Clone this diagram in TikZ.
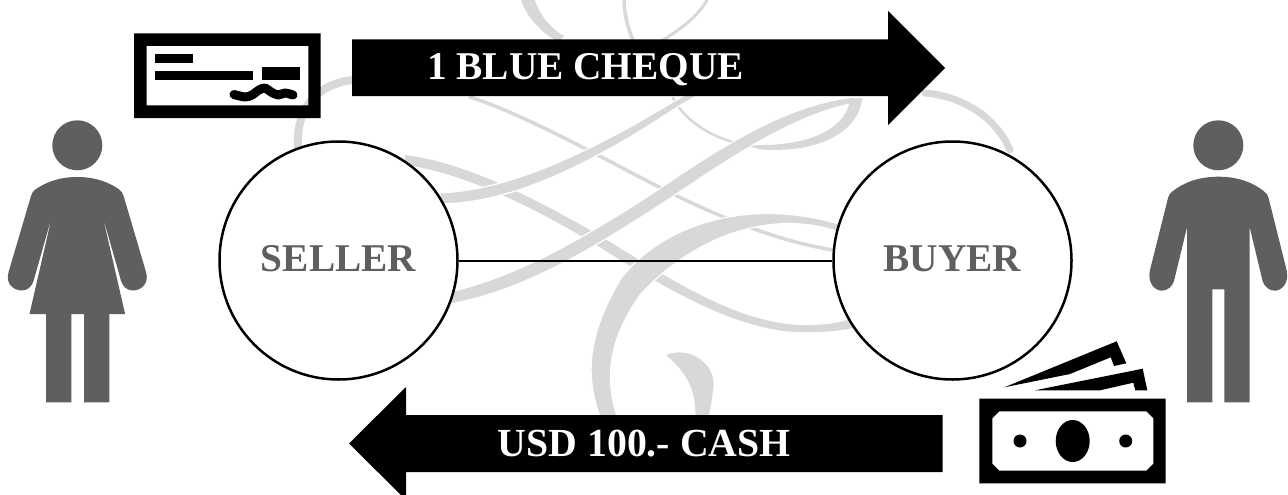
\documentclass[tikz,border=0pt]{standalone}
\usepackage{fontspec}
\setmainfont{Liberation Serif}
\definecolor{wmgrey}{HTML}{D8D8D8}
\definecolor{figgrey}{HTML}{5F5F5F}
\tikzset{
  ribbon/.style={fill=wmgrey,draw=white,line width=1.2pt},
  softribbon/.style={fill=wmgrey},
  strand/.style={draw=wmgrey,line cap=round},
  person/.style={fill=figgrey},
  solid black/.style={fill=black},
  party/.style={circle,draw=black,fill=white,line width=2.5pt,minimum size=238pt,inner sep=0pt,
    text=figgrey,font=\bfseries\fontsize{39.3}{40}\selectfont,text height=21pt,text depth=0pt},
  banner/.style={anchor=base west,inner sep=0pt,text=white,font=\bfseries\fontsize{39.3}{40}\selectfont},
  link/.style={draw=black,line width=2pt}
}
\begin{document}
\begin{tikzpicture}[x=1pt,y=-1pt]
\clip (0,0) rectangle (1288,495);
\fill[white] (0,0) rectangle (1288,495);
% ---------- watermark flourish ----------
\draw[strand,line width=3.5pt] (470,97) .. controls (510,110) and (560,135) .. (630,172) .. controls (680,198) and (760,240) .. (840,251);
\draw[strand,line width=2.5pt] (760,147) .. controls (730,145) and (690,130) .. (673,98);
\draw[strand,line width=3pt] (708,-2) .. controls (700,15) and (680,30) .. (658,43);
\draw[strand,line width=3.5pt] (624,-2) .. controls (624,15) and (628,28) .. (633,40);
\draw[strand,line width=7pt] (925,93) .. controls (960,96) and (995,115) .. (1010,150);
\draw[strand,line width=8pt] (352,80) .. controls (320,84) and (295,105) .. (298,150);
\fill[softribbon] (520,-3) .. controls (525,15) and (540,32) .. (558,42) -- (564,36) .. controls (548,27) and (538,12) .. (534,-3) -- cycle;
% strand running to the lower right
\fill[softribbon] (405,155) .. controls (460,162) and (520,190) .. (597,234) .. controls (660,272) and (730,322) .. (800,325) .. controls (825,326) and (845,322) .. (860,316)
  -- (860,326) .. controls (845,331) and (820,333) .. (795,332) .. controls (730,328) and (660,285) .. (593,243) .. controls (530,205) and (460,172) .. (405,165) -- cycle;
% tail of the big curl
\fill[softribbon] (666,355) .. controls (690,345) and (718,365) .. (713,390) .. controls (712,400) and (710,410) .. (708,420) -- (695,420) .. controls (697,395) and (690,375) .. (666,355) -- cycle;
% main sweeping strokes, over the thin ones
\fill[ribbon] (440,193) .. controls (500,190) and (560,165) .. (630,127) .. controls (655,113) and (675,100) .. (695,90)
  -- (695,97) .. controls (675,108) and (655,122) .. (630,137) .. controls (560,178) and (500,203) .. (440,204) -- cycle;
\fill[ribbon] (450,292) .. controls (520,275) and (580,240) .. (650,195) .. controls (710,155) and (780,105) .. (855,97)
  -- (855,103) .. controls (790,115) and (720,165) .. (660,205) .. controls (590,250) and (525,290) .. (450,304) -- cycle;
\fill[softribbon] (850,99) .. controls (848,125) and (815,146) .. (757,145) -- (757,149) .. controls (820,155) and (860,130) .. (862,98) -- cycle;
\fill[ribbon] (603,425) .. controls (585,380) and (585,340) .. (620,280) .. controls (660,225) and (750,195) .. (845,226)
  -- (845,234) .. controls (770,205) and (690,240) .. (640,295) .. controls (605,345) and (605,385) .. (620,425) -- cycle;
% ---------- parties and their link ----------
\node[party] (seller) at (338.5,260.5) {SELLER};
\node[party] (buyer) at (952.5,260.5) {BUYER};
\draw[link] (seller) -- (buyer);
% ---------- block arrows ----------
\fill[solid black] (352,39.5) -- (888,39.5) -- (888,11) -- (945,68) -- (888,125) -- (888,96) -- (352,96) -- cycle;
\node[banner] (cheque label) at (427,80) {1 BLUE CHEQUE};
\fill[solid black] (942.5,415) -- (406,415) -- (406,387) -- (349,443.5) -- (406,500) -- (406,472) -- (942.5,472) -- cycle;
\node[banner,font=\bfseries\fontsize{39.8}{40}\selectfont] (cash label) at (497.5,456) {USD 100.- CASH};
% ---------- cheque icon ----------
\fill[solid black,even odd rule] (134,33.3) rectangle (320.7,118) (146.7,46) rectangle (308.3,105.3);
\fill[solid black] (155.3,54.3) rectangle (193.3,63);
\fill[solid black] (155.3,71.3) rectangle (253,80);
\fill[solid black] (261.7,67.3) rectangle (299.7,80);
\draw[black,line width=9pt,line cap=round,line join=round] plot[smooth] coordinates {(234,94.5) (245,97) (252,95) (259,90) (265,88) (271,92) (278,95) (285,93) (293,95)};
% ---------- cash icon ----------
\fill[solid black,even odd rule] (979.3,398.7) rectangle (1165.7,483.3)
  (999.3,411.3) -- (1146.3,411.3) -- (1153.3,418.3) -- (1153.3,463.7) -- (1146.3,470.7) -- (999.3,470.7) -- (992.3,463.7) -- (992.3,418.3) -- cycle;
\fill[solid black] (1072.7,441) ellipse [x radius=17,y radius=21];
\fill[solid black] (1020,441) circle [radius=6.5];
\fill[solid black] (1125.7,441) circle [radius=6.5];
\fill[solid black] (1004.3,387.3) -- (1116.7,341.3) -- (1126.3,363.3) -- (1114,366) -- (1110.7,357.3) -- (1070,374) -- cycle;
\fill[solid black] (1035,390.3) -- (1142.7,368.7) -- (1147.3,390.3) -- (1135.3,390.3) -- (1133.3,382.7) -- (1100,390.3) -- cycle;
% ---------- woman ----------
\fill[person] (77.3,145.3) circle [radius=25];
\fill[person] (77.3,177) .. controls (58,177) and (45,183) .. (36,189) .. controls (33,191) and (32,193) .. (31,196)
  -- (8.6,272) .. controls (5,284) and (14,290.5) .. (21.7,290.5) .. controls (28,290.5) and (32,286) .. (33.5,281)
  -- (52,216) -- (29.5,314) -- (46,314) -- (46,402.3) -- (71.3,402.3) -- (71.3,314) -- (84,314) -- (84,402.3) -- (109.3,402.3) -- (109.3,314) -- (125.1,314)
  -- (102.6,216) -- (121.1,281) .. controls (122.6,286) and (126.6,290.5) .. (132.9,290.5) .. controls (140.6,290.5) and (149.6,284) .. (146,272)
  -- (123.6,196) .. controls (122.6,193) and (121.6,191) .. (118.6,189) .. controls (109.6,183) and (96.6,177) .. (77.3,177) -- cycle;
% ---------- man ----------
\fill[person] (1218.3,145.3) circle [radius=25];
\fill[person] (1218.3,176.7) .. controls (1198,176.7) and (1183,183) .. (1173,191) .. controls (1170,193) and (1168.8,195) .. (1168,198)
  -- (1150,270) .. controls (1147,283) and (1155,290.7) .. (1161.7,290.7) .. controls (1168,290.7) and (1172.5,286) .. (1174,281)
  -- (1187,227.3) -- (1187,402.3) -- (1212.3,402.3) -- (1212.3,289.3) -- (1224.3,289.3) -- (1224.3,402.3) -- (1249.7,402.3) -- (1249.7,227.3)
  -- (1262.6,281) .. controls (1264.1,286) and (1268.6,290.7) .. (1274.9,290.7) .. controls (1281.6,290.7) and (1289.6,283) .. (1286.6,270)
  -- (1268.6,198) .. controls (1267.8,195) and (1266.6,193) .. (1263.6,191) .. controls (1253.6,183) and (1238.6,176.7) .. (1218.3,176.7) -- cycle;
\end{tikzpicture}
\end{document}
